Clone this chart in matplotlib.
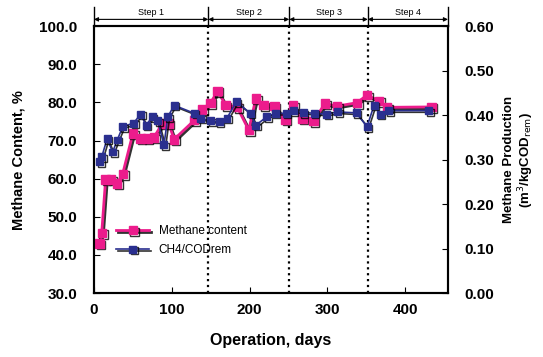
import numpy as np
import matplotlib
matplotlib.use("Agg")
import matplotlib.pyplot as plt
import matplotlib.patheffects as pe
import matplotlib.transforms as mtransforms

plt.rcParams['font.family'] = ['Liberation Sans', 'DejaVu Sans']

# Methane content, %
ch4_days = [7, 10, 15, 22, 30, 37, 50, 60, 69, 77, 88, 96, 103, 129, 139, 150, 159,
            169, 184, 199, 208, 218, 232, 246, 256, 268, 282, 297, 312, 338, 351,
            366, 377, 434]
ch4_content = [43.0, 45.8, 59.8, 59.8, 58.7, 61.3, 71.8, 70.5, 70.5, 70.8, 74.5, 74.5,
               70.3, 75.3, 78.1, 79.9, 83.0, 79.3, 78.8, 72.7, 81.0, 79.3, 79.0,
               75.5, 79.3, 75.8, 75.1, 79.7, 79.0, 79.9, 81.9, 80.4, 78.7, 78.8]

# CH4/CODrem, m3/kgCOD
prod_days = [7, 10, 17, 24, 30, 37, 51, 60, 67, 75, 82, 90, 95, 103, 129, 137, 150,
             161, 171, 183, 201, 208, 222, 233, 247, 256, 269, 283, 299, 313, 337,
             351, 360, 368, 379, 430]
prod = [0.295, 0.306, 0.347, 0.317, 0.344, 0.374, 0.382, 0.402, 0.377, 0.396, 0.387,
        0.333, 0.396, 0.422, 0.404, 0.393, 0.387, 0.385, 0.393, 0.430, 0.404, 0.377,
        0.396, 0.404, 0.404, 0.410, 0.406, 0.404, 0.402, 0.407, 0.405, 0.374, 0.422,
        0.402, 0.410, 0.410]

step_edges = [0, 147, 251, 352, 455]
step_names = ['Step 1', 'Step 2', 'Step 3', 'Step 4']

fig = plt.figure(figsize=(5.43, 3.57), dpi=100)
ax = fig.add_axes([0.173, 0.179, 0.652, 0.748])
ax2 = ax.twinx()

shadow = [pe.SimpleLineShadow(offset=(1.2, -1.2), shadow_color='black', alpha=0.8), pe.Normal()]

l1, = ax.plot(ch4_days, ch4_content, color='#ec1c8c', lw=2, marker='s', ms=6,
              label='Methane content', path_effects=shadow, zorder=4)
l2, = ax2.plot(prod_days, prod, color='#2a2f8f', lw=1.2, marker='s', ms=5,
               label='CH4/CODrem', path_effects=shadow, zorder=3)

ax.set_xlim(0, 455)
ax.set_ylim(30, 100)
ax2.set_ylim(0, 0.6)
ax.set_xticks([0, 100, 200, 300, 400])
ax.set_yticks(np.arange(30, 101, 10))
ax.set_yticklabels([f'{v:.1f}' for v in np.arange(30, 101, 10)])
ax2.set_yticks(np.arange(0, 0.61, 0.1))
ax2.set_yticklabels([f'{v:.2f}' for v in np.arange(0, 0.61, 0.1)])

for a in (ax, ax2):
    a.tick_params(direction='in', labelsize=11, length=4, width=0.8)
    for lab in a.get_yticklabels() + a.get_xticklabels():
        lab.set_fontweight('bold')
    for s in a.spines.values():
        s.set_linewidth(1.5)
ax.tick_params(axis='y', pad=12)
ax.tick_params(axis='x', pad=7)
ax2.tick_params(axis='y', pad=12)

for x in step_edges[1:-1]:
    ax.axvline(x, color='black', ls=':', lw=1.6, zorder=2)

ax.set_xlabel('Operation, days', fontsize=11.5, fontweight='bold', labelpad=12)
ax.set_ylabel('Methane Content, %', fontsize=10.5, fontweight='bold', labelpad=10)
ax2.set_ylabel('Methane Production\n(m$^3$/kgCOD$_{\\mathrm{rem}}$)', fontsize=9.5,
               fontweight='bold', linespacing=1.1)
ax2.yaxis.set_label_coords(1.155, 0.5)

# step annotations above the plot
trans = mtransforms.blended_transform_factory(ax.transData, ax.transAxes)
for x in step_edges:
    ax.plot([x, x], [1.0, 1.07], transform=trans, color='black', lw=1, clip_on=False)
for i, name in enumerate(step_names):
    x0, x1 = step_edges[i], step_edges[i + 1]
    ax.annotate('', xy=(x1, 1.025), xytext=(x0, 1.025), xycoords=trans,
                arrowprops=dict(arrowstyle='<|-|>', lw=0.8, color='black',
                                mutation_scale=6, shrinkA=0, shrinkB=0),
                annotation_clip=False)
    ax.text((x0 + x1) / 2, 1.035, name, transform=trans, ha='center', va='bottom',
            fontsize=6.5)

ax.legend([l1, l2], ['Methane content', 'CH4/CODrem'], loc='lower left',
          bbox_to_anchor=(0.05, 0.12), frameon=False, fontsize=8.5,
          handlelength=2.8, labelspacing=0.6, borderaxespad=0)

fig.savefig('out.png', dpi=100)
